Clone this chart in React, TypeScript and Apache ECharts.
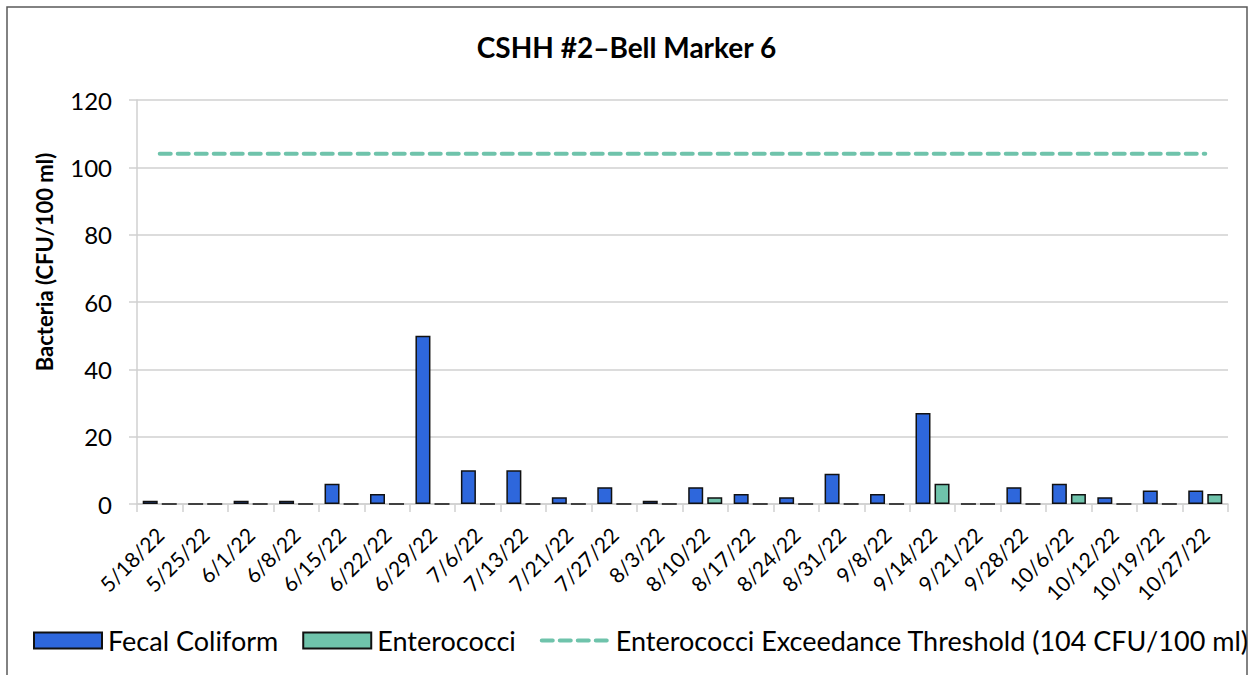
import React, { useEffect, useRef } from "react";
import * as echarts from "echarts";

const categories = ["5/18/22","5/25/22","6/1/22","6/8/22","6/15/22","6/22/22","6/29/22","7/6/22","7/13/22","7/21/22","7/27/22","8/3/22","8/10/22","8/17/22","8/24/22","8/31/22","9/8/22","9/14/22","9/21/22","9/28/22","10/6/22","10/12/22","10/19/22","10/27/22"];
const fecalColiform = [1,0,1,1,6,3,50,10,10,2,5,1,5,3,2,9,3,27,0,5,6,2,4,4];
const enterococci = [0,0,0,0,0,0,0,0,0,0,0,0,2,0,0,0,0,6,0,0,3,0,0,3];
const thresholdValue = 104;
const threshold = categories.map(() => thresholdValue);
const yTicks = { min: 0, max: 120, interval: 20 };

const FONT = "Lato, 'Open Sans', sans-serif";
const TEAL = "#6FC3AB";
const BLUE = "#2E67DC";

export default function App() {
  const ref = useRef<HTMLDivElement>(null);
  useEffect(() => {
    if (!ref.current) return;
    const chart = echarts.init(ref.current, undefined, { renderer: "svg" });
    chart.setOption({
      animation: false,
      backgroundColor: "#fff",
      textStyle: { fontFamily: FONT, color: "#000" },
      title: {
        text: "CSHH #2\u2013Bell Marker 6",
        left: "center",
        top: 28,
        textStyle: { fontFamily: FONT, fontSize: 28, fontWeight: "bold", color: "#000" },
      },
      graphic: [
        {
          type: "rect",
          shape: { x: 7, y: 7, width: 1240, height: 670 },
          style: { fill: "none", stroke: "#595959", lineWidth: 1.5 },
          silent: true,
        },
      ],
      legend: {
        left: 28,
        top: 622,
        width: 1400,
        itemWidth: 68,
        itemHeight: 16,
        itemGap: 24,
        textStyle: { fontFamily: FONT, fontSize: 27, color: "#000", padding: [0, 0, 0, 1] },
        data: [
          { name: "Fecal Coliform", icon: "rect" },
          { name: "Enterococci", icon: "rect" },
          {
            name: "Enterococci Exceedance Threshold (104 CFU/100 ml)",
            itemStyle: { opacity: 0 },
            lineStyle: { color: TEAL, width: 4, type: [11, 7], opacity: 1 },
          },
        ],
      },
      grid: { left: 137, right: 25, top: 100, bottom: 171, containLabel: false },
      xAxis: {
        type: "category",
        data: categories,
        boundaryGap: true,
        axisLine: { lineStyle: { color: "#d0d0d0", width: 1.5 } },
        axisTick: { show: true, alignWithLabel: false, length: 8, lineStyle: { color: "#d0d0d0", width: 1.5 } },
        axisLabel: {
          rotate: 45,
          interval: 0,
          fontFamily: FONT,
          fontSize: 21,
          color: "#000",
          margin: 27,
        },
      },
      yAxis: {
        type: "value",
        min: yTicks.min,
        max: yTicks.max,
        interval: yTicks.interval,
        name: "Bacteria (CFU/100 ml)",
        nameLocation: "middle",
        nameGap: 82,
        nameRotate: 90,
        nameTextStyle: { fontFamily: FONT, fontSize: 22, fontWeight: "bold", color: "#000", padding: [0, 0, 0, 80] },
        axisLine: { show: true, lineStyle: { color: "#d0d0d0", width: 1.5 } },
        axisTick: { show: true, length: 8, lineStyle: { color: "#d0d0d0", width: 1.5 } },
        splitLine: { lineStyle: { color: "#d0d0d0", width: 1.5 } },
        axisLabel: { fontFamily: FONT, fontSize: 24, color: "#000", margin: 25 },
      },
      series: [
        {
          name: "Fecal Coliform",
          type: "bar",
          data: fecalColiform,
          barWidth: 15,
          barGap: "27%",
          itemStyle: { color: BLUE, borderColor: "#111", borderWidth: 1.5 },
        },
        {
          name: "Enterococci",
          type: "bar",
          data: enterococci,
          barWidth: 15,
          itemStyle: { color: TEAL, borderColor: "#111", borderWidth: 1.5 },
        },
        {
          name: "Enterococci Exceedance Threshold (104 CFU/100 ml)",
          type: "line",
          data: threshold,
          symbol: "none",
          lineStyle: { color: TEAL, width: 4, type: [11, 7], cap: "round" },
          itemStyle: { color: TEAL },
        },
      ],
    });
    return () => chart.dispose();
  }, []);
  return <div ref={ref} style={{ width: 1253, height: 675, position: "absolute", left: 0, top: 0 }} />;
}
